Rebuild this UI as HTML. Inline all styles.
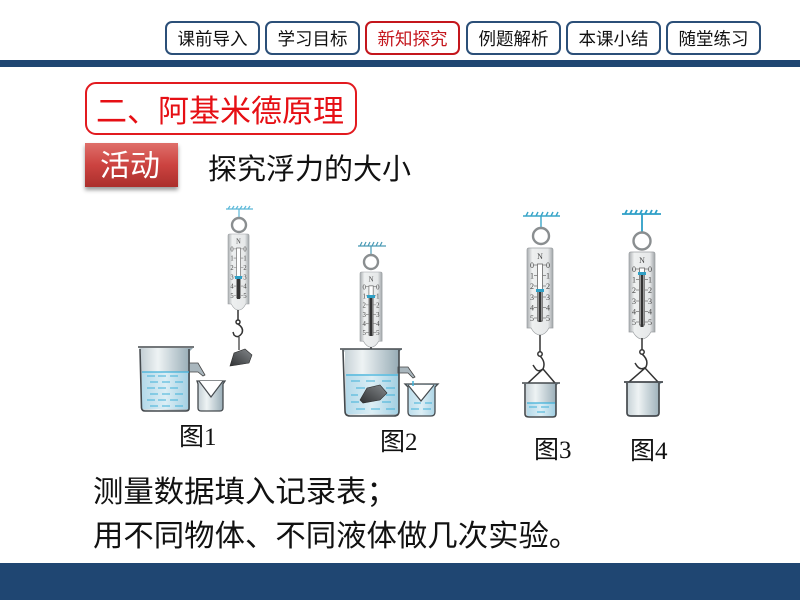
<!DOCTYPE html>
<html><head><meta charset="utf-8">
<style>
html,body{margin:0;padding:0;background:#fff}
#p{position:relative;width:800px;height:600px;overflow:hidden;background:#fff;font-family:"Liberation Sans","Noto Sans CJK SC",sans-serif;color:#111}
.n{position:absolute;top:21px;height:30px;width:91px;border:2px solid #2b4f78;border-radius:7px;background:#fff;font-size:17.500px;line-height:33px;text-align:center}
.a{position:absolute;white-space:nowrap}
.l{font:25px/34px "Liberation Serif","Noto Sans CJK SC",sans-serif}
svg{position:absolute;left:0;top:0}
</style></head><body><div id="p">
<div class="n" style="left:165px">课前导入</div>
<div class="n" style="left:265px">学习目标</div>
<div class="n" style="left:365px;border-color:#c4161c;color:#c4161c">新知探究</div>
<div class="n" style="left:466px">例题解析</div>
<div class="n" style="left:566px">本课小结</div>
<div class="n" style="left:666px">随堂练习</div>
<div class="a" style="left:0;top:60px;width:800px;height:7px;background:#1f4672"></div>
<div class="a" style="left:0;top:563px;width:800px;height:37px;background:#1f4672"></div>
<div class="a" style="left:85px;top:82px;width:268px;height:49px;border:2px solid #e21a1f;border-radius:11px"></div>
<div class="a" style="left:96px;top:91px;font-size:31px;line-height:42px;color:#e60f14">二、阿基米德原理</div>
<div class="a" style="left:85px;top:143px;width:93px;height:44px;background:linear-gradient(#df6f6a,#cc4340 50%,#ab2f2c);box-shadow:0 3px 4px #999"></div>
<div class="a" style="left:100px;top:146px;font-size:30px;line-height:42px;color:#fff">活动</div>
<div class="a" style="left:208px;top:149px;font-size:29px;line-height:42px">探究浮力的大小</div>
<svg width="800" height="600" viewBox="0 0 800 600">
<defs>
<linearGradient id="m" x1="0" x2="1"><stop offset="0" stop-color="#a9adb0"/><stop offset=".2" stop-color="#eef0f0"/><stop offset=".8" stop-color="#e6e8e9"/><stop offset="1" stop-color="#a0a5a8"/></linearGradient>
<linearGradient id="g" x1="0" x2="1"><stop offset="0" stop-color="#bfcbd1"/><stop offset=".35" stop-color="#eef3f4"/><stop offset="1" stop-color="#8fa5b0"/></linearGradient>
<linearGradient id="w" x1="0" x2="1"><stop offset="0" stop-color="#b4d9e9"/><stop offset=".5" stop-color="#dceef5"/><stop offset="1" stop-color="#a2cfe2"/></linearGradient>
<linearGradient id="r" x1="0" x2="1" y1="1" y2="0"><stop offset="0" stop-color="#2f3133"/><stop offset="1" stop-color="#85898c"/></linearGradient>
<symbol id="s" width="26" height="87" viewBox="0 0 26 87" overflow="visible">
<path d="M2 0H24Q26 0 26 2V80H22Q18 87 13 87Q8 87 4 80H0V2Q0 0 2 0Z" fill="url(#m)" stroke="#9a9ea1" stroke-width=".7"/>
<rect x="10.500" y="16" width="5" height="57" fill="#fff" stroke="#666" stroke-width=".8"/>
<path d="M7 17h3.500M7 27.500h3.500M7 38h3.500M7 49h3.500M7 59.500h3.500M7 70h3.500M15.500 17h3.500M15.500 27.500h3.500M15.500 38h3.500M15.500 49h3.500M15.500 59.500h3.500M15.500 70h3.500" stroke="#777" stroke-width=".7"/>
<g font-family="Liberation Serif,serif" font-size="8" fill="#444" text-anchor="middle">
<text x="13" y="11">N</text>
<text x="5" y="20">0</text><text x="21" y="20">0</text><text x="5" y="30.500">1</text><text x="21" y="30.500">1</text><text x="5" y="41">2</text><text x="21" y="41">2</text><text x="5" y="52">3</text><text x="21" y="52">3</text><text x="5" y="62.500">4</text><text x="21" y="62.500">4</text><text x="5" y="73">5</text><text x="21" y="73">5</text></g>
</symbol>
</defs>
<g fill="none">
<path d="M226 209H253M228 209l2-3M232 209l2-3M236 209l2-3M240 209l2-3M244 209l2-3M248 209l2-3M239 209V218" stroke-width="1.2" stroke="#5bb8d8"/>
<path d="M358 246H386M360 246l2-4M364 246l2-4M368 246l2-4M372 246l2-4M376 246l2-4M380 246l2-4M371 246V255" stroke-width="1.2" stroke="#4a9ab5"/>
<path d="M523 216H560M526 216l2-4M531 216l2-4M536 216l2-4M541 216l2-4M546 216l2-4M551 216l2-4M556 216l2-4M541 216V228" stroke-width="1.4" stroke="#3aa6c8"/>
<path d="M622 214H661M625 214l2-4M630 214l2-4M635 214l2-4M640 214l2-4M645 214l2-4M650 214l2-4M655 214l2-4M642 214V233" stroke-width="1.800" stroke="#2d9fc7"/>
</g>
<g fill="none" stroke="#8a8e90" stroke-width="2.400">
<circle cx="239" cy="225" r="7"/><circle cx="371" cy="262" r="7"/><circle cx="541" cy="236" r="8"/><circle cx="642" cy="241" r="8.500"/>
</g>
<use href="#s" transform="translate(228 234) scale(.81 .875)"/>
<use href="#s" transform="translate(360 272) scale(.85 .865)"/>
<use href="#s" transform="translate(527 248)"/>
<use href="#s" transform="translate(629 252)"/>
<g stroke="#333" stroke-width="3">
<path d="M238.500 277V299M371 297V336M540 291V322M642 274V327"/></g>
<g fill="#2f9fc5"><rect x="235" y="276" width="7" height="3"/><rect x="367" y="295" width="8" height="3"/><rect x="536" y="289" width="8" height="3"/><rect x="638" y="272" width="8" height="3"/></g>
<!-- hooks -->
<g fill="none" stroke="#333" stroke-width="1.500">
<path d="M238 310V320"/><circle cx="238" cy="322" r="2"/><path d="M238 324Q244 328 242 333Q238 339 234 335L233 332"/><path d="M239 337V350" stroke-width="1.200"/>
<path d="M371 347V356"/><circle cx="371" cy="358" r="2"/><path d="M371 360Q377 364 375 370Q371 377 367 372L366 368"/><path d="M371 375V387" stroke-width="1.200"/>
<path d="M540 335V352"/><circle cx="540" cy="354" r="2.200"/><path d="M540 356Q546 362 543 369Q538 373 535 368L533 365"/>
<path d="M528 383L543 369 555 383"/>
<path d="M642 338V350"/><circle cx="642" cy="352" r="2.200"/><path d="M642 354Q649 360 646 367Q641 371 637 366L635 363"/>
<path d="M629 382L645 368 658 382"/>
</g>
<path d="M230 366L234 353 245 349 252 355 249 363 237 365Z" fill="url(#r)" stroke="#2a2a2a" stroke-width=".6"/>
<!-- beaker 1 -->
<path d="M139 348H193L190 351V409Q190 411 187 411H144Q141 411 141 409V351Z" fill="url(#g)"/>
<path d="M142 372H189V409H142Z" fill="url(#w)"/>
<path d="M189 363H198L205 375 203 376 198 372H189Z" fill="#a9b6bd" stroke="#444" stroke-width=".8"/>
<path d="M138 347H194M140 349L141.500 408Q142 411 145 411H186Q189 411 189 408V349" fill="none" stroke="#454a4e" stroke-width="1.600"/>
<path d="M142 372H189" stroke="#3fb1d9" stroke-width="1.300"/>
<path d="M147 376h8M158 376h8M170 376h8M150 382h8M162 382h8M175 382h8M147 388h8M158 388h8M170 388h8M150 394h8M162 394h8M175 394h8M147 400h8M158 400h8M170 400h8M150 406h8M162 406h8M175 406h8" stroke="#3fb1d9" stroke-width="1.100"/>
<path d="M197 381H225L223 384V408Q223 411 220 411H201Q198 411 198 408V384Z" fill="url(#g)" stroke="#454a4e" stroke-width="1.300"/>
<path d="M199 381L211 397 223 381" fill="#fff" stroke="#454a4e" stroke-width="1.200"/>
<!-- beaker 2 -->
<path d="M341 349H402L399 352V412Q399 416 395 416H349Q345 416 345 412V352Z" fill="url(#g)"/>
<path d="M346 374H398V414H346Z" fill="url(#w)"/>
<path d="M398 367H408L415 377 413 378 408 373H398Z" fill="#a9b6bd" stroke="#444" stroke-width=".8"/>
<path d="M340 349H402M343 350L345 411Q345 416 350 416H394Q399 416 399 411V350" fill="none" stroke="#454a4e" stroke-width="1.600"/>
<path d="M346 375H398" stroke="#3fb1d9" stroke-width="1.300"/>
<path d="M351 381h9M366 381h9M382 381h9M356 388h9M386 388h9M351 395h7M386 395h9M351 402h8M382 402h9M356 409h9M371 409h9M386 409h9" stroke="#3fb1d9" stroke-width="1.100"/>
<path d="M360 400L367 388 380 385 387 393 380 400 363 403Z" fill="url(#r)" stroke="#2a2a2a" stroke-width=".6"/>
<path d="M405 384H438L435 387V412Q435 416 431 416H412Q408 416 408 412V387Z" fill="url(#w)" stroke="#454a4e" stroke-width="1.300"/>
<path d="M408 385L421 401 434 385" fill="#fff" stroke="#454a4e" stroke-width="1.200"/>
<path d="M414 403h7M425 403h7M411 409h8M423 409h8" stroke="#3fb1d9" stroke-width="1.100"/>
<path d="M413 381V386" stroke="#3fb1d9" stroke-width="1.500"/>
<!-- beaker 3 -->
<path d="M523 383H559L556 386V414Q556 417 553 417H529Q526 417 526 414V386Z" fill="url(#g)"/>
<path d="M527 403H555V416H527Z" fill="url(#w)"/>
<path d="M522 383H560M525 384V414Q525 417 529 417H553Q556 417 556 414V384" fill="none" stroke="#454a4e" stroke-width="1.600"/>
<path d="M527 403H555" stroke="#3fb1d9" stroke-width="1.300"/>
<path d="M529 407h8M541 407h8M537 412h8" stroke="#3fb1d9"/>
<!-- beaker 4 -->
<path d="M625 382H663L659 385V413Q659 416 655 416H631Q627 416 627 413V385Z" fill="url(#g)"/>
<path d="M624 382H663M627 383V413Q627 416 631 416H655Q659 416 659 413V383" fill="none" stroke="#454a4e" stroke-width="1.700"/>
</svg>
<div class="a l" style="left:179px;top:421px">图1</div>
<div class="a l" style="left:380px;top:426px">图2</div>
<div class="a l" style="left:534px;top:434px">图3</div>
<div class="a l" style="left:630px;top:435px">图4</div>
<div class="a" style="left:93px;top:471px;font-size:30.400px;line-height:42px">测量数据填入记录表；</div>
<div class="a" style="left:93px;top:515px;font-size:30.400px;line-height:42px">用不同物体、不同液体做几次实验。</div>
</div></body></html>
